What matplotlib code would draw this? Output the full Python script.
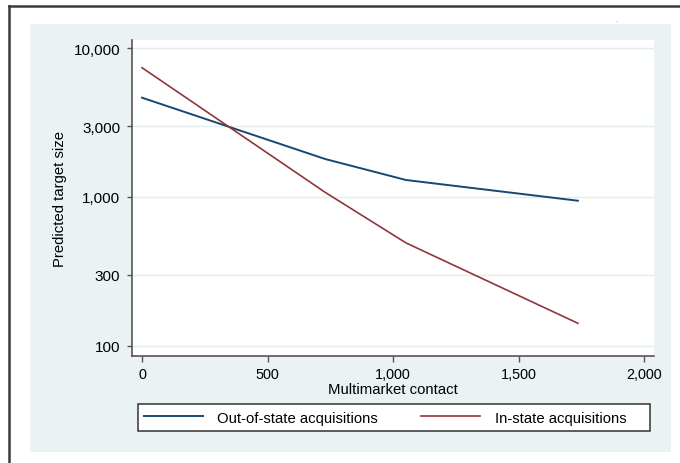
import matplotlib
matplotlib.use("Agg")
import matplotlib.pyplot as plt
from matplotlib.patches import Rectangle
from matplotlib.lines import Line2D
from matplotlib.ticker import FixedLocator, NullLocator

# Data
contact = [0, 729, 1051, 1735]
out_of_state = [4654, 1801, 1301, 944]
in_state = [7406, 1075, 491, 141.5]
x_ticks = [0, 500, 1000, 1500, 2000]
x_ticklabels = ["0", "500", "1,000", "1,500", "2,000"]
y_ticks = [100, 300, 1000, 3000, 10000]
y_ticklabels = ["100", "300", "1,000", "3,000", "10,000"]
series_names = ["Out-of-state acquisitions", "In-state acquisitions"]

plt.rcParams['font.family'] = ['Liberation Sans', 'DejaVu Sans']

W, H = 680, 464
fig = plt.figure(figsize=(W / 100, H / 100), dpi=100, facecolor="white")

def fx(px):
    return px / W

def fy(py):
    return 1 - py / H

# graph region background
fig.patches.append(Rectangle((fx(30), fy(452.7)), fx(670.7) - fx(30), fy(25) - fy(452.7),
                             transform=fig.transFigure, facecolor="#EAF2F3", edgecolor="none", zorder=-2))
# outer border (top and left visible)
fig.lines.append(Line2D([fx(9), fx(700)], [fy(6.7), fy(6.7)], transform=fig.transFigure,
                        color="#3a3a3a", linewidth=1.8, zorder=-1))
fig.lines.append(Line2D([fx(9), fx(9)], [fy(6.7), fy(480)], transform=fig.transFigure,
                        color="#3a3a3a", linewidth=1.8, zorder=-1))
fig.text(fx(616), fy(20), ".", fontsize=5, color="#777777", ha="center", va="center")

left, right, top, bottom = 132, 654, 40.7, 356.7
ax = fig.add_axes([fx(left), fy(bottom), fx(right) - fx(left), fy(top) - fy(bottom)])
ax.set_facecolor("white")

navy = "#1A476F"
maroon = "#90353B"
ax.plot(contact, out_of_state, color=navy, linewidth=1.4, label=series_names[0], zorder=3)
ax.plot(contact, in_state, color=maroon, linewidth=1.2, label=series_names[1], zorder=3)

ax.set_yscale("log")
ax.set_xlim(-39.8, 2038)
ax.set_ylim(85.65, 11425)
ax.yaxis.set_major_locator(FixedLocator(y_ticks))
ax.yaxis.set_minor_locator(NullLocator())
ax.set_yticklabels(y_ticklabels)
ax.set_xticks(x_ticks)
ax.set_xticklabels(x_ticklabels)

ax.grid(axis="y", color="#E3EDEF", linewidth=1.0, zorder=1)
ax.set_axisbelow(True)

for s in ["top", "right"]:
    ax.spines[s].set_visible(False)
for s in ["left", "bottom"]:
    ax.spines[s].set_color("#555555")
    ax.spines[s].set_linewidth(1.2)

ax.tick_params(axis="x", direction="out", length=4, width=1.0, color="#555555",
               labelsize=10.4, labelcolor="black", pad=4)
ax.tick_params(axis="y", direction="out", length=3.5, width=1.0, color="#555555",
               labelsize=11, labelcolor="black", pad=5)

ax.set_xlabel("Multimarket contact", fontsize=10.7, labelpad=1)
ax.set_ylabel("Predicted target size", fontsize=10.7)
ax.yaxis.set_label_coords((67 - left) / (right - left), 0.5)

# legend box
leg_l, leg_r, leg_t, leg_b = 137.7, 649.6, 405, 432.3
fig.patches.append(Rectangle((fx(leg_l), fy(leg_b)), fx(leg_r) - fx(leg_l), fy(leg_t) - fy(leg_b),
                             transform=fig.transFigure, facecolor="white", edgecolor="#333333",
                             linewidth=1.1, zorder=1))
leg = fig.legend(handles=ax.get_lines(), labels=series_names, ncol=2,
                 loc="center left", bbox_to_anchor=(fx(144), fy(418.7)),
                 fontsize=10.7, frameon=False, handlelength=3.94,
                 handletextpad=1.0, borderaxespad=0, borderpad=0, columnspacing=2.9)
leg.set_zorder(5)

fig.savefig("out.png", dpi=100, facecolor="white")
